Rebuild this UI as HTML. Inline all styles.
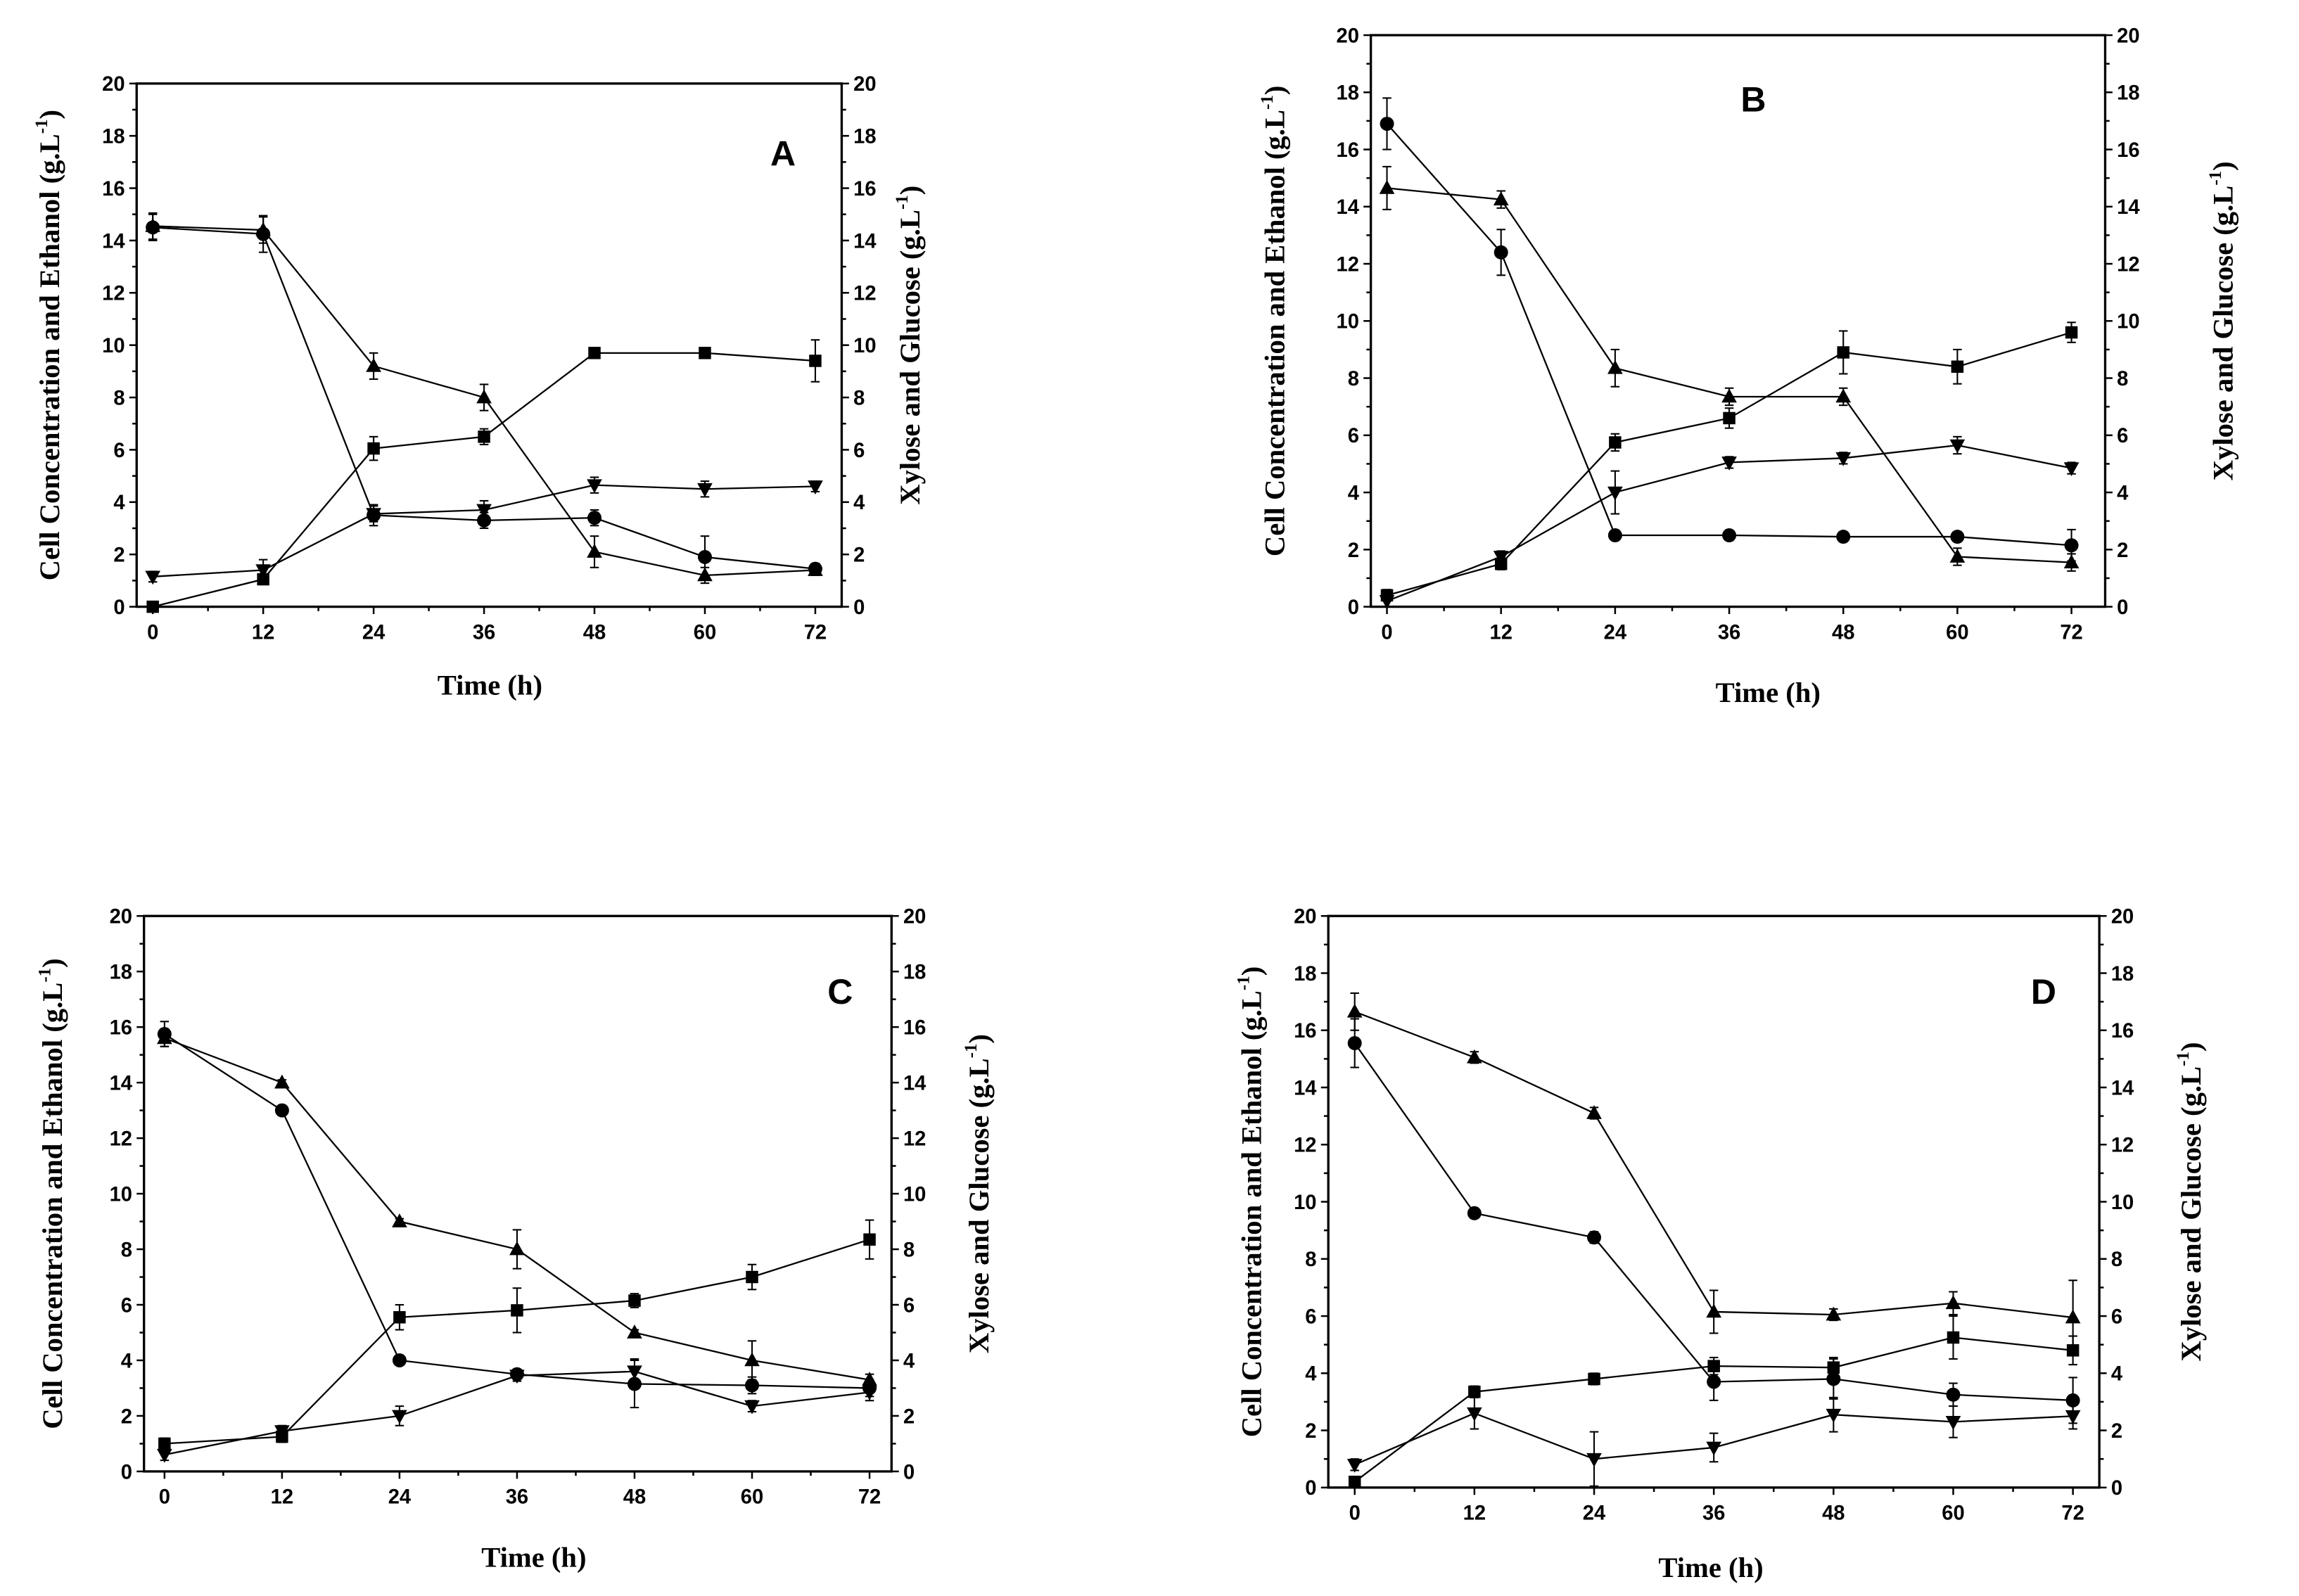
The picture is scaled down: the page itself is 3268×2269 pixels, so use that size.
<!DOCTYPE html>
<html><head><meta charset="utf-8"><style>
html,body{margin:0;padding:0;background:#fff;}
svg{display:block;}
text{fill:#000;}
.tk{font-family:"Liberation Sans Narrow","Liberation Sans",sans-serif;font-weight:bold;font-size:14px;}
.ttl{font-family:"Liberation Serif",serif;font-weight:bold;font-size:19.5px;}
.let{font-family:"Liberation Sans",sans-serif;font-weight:bold;font-size:24px;}
</style></head><body>
<svg id="chart" width="3268" height="2269" viewBox="0 0 1568 1089" xmlns="http://www.w3.org/2000/svg"></svg>
<script>
const hours = [0, 12, 24, 36, 48, 60, 72];
const yTicks = [0, 2, 4, 6, 8, 10, 12, 14, 16, 18, 20];
const xTicks = [0, 12, 24, 36, 48, 60, 72];
const panelLetters = ["A", "B", "C", "D"];
const squareA = [0, 1.05, 6.05, 6.5, 9.7, 9.7, 9.4];
const circleA = [14.5, 14.25, 3.5, 3.3, 3.4, 1.9, 1.45];
const upA = [14.55, 14.4, 9.2, 8.0, 2.1, 1.2, 1.4];
const downA = [1.15, 1.4, 3.55, 3.7, 4.65, 4.5, 4.6];
const squareB = [0.4, 1.5, 5.75, 6.6, 8.9, 8.4, 9.6];
const circleB = [16.9, 12.4, 2.5, 2.5, 2.45, 2.45, 2.15];
const upB = [14.65, 14.25, 8.35, 7.35, 7.35, 1.75, 1.55];
const downB = [0.2, 1.75, 4.0, 5.05, 5.2, 5.65, 4.85];
const squareC = [1.0, 1.25, 5.55, 5.8, 6.15, 7.0, 8.35];
const circleC = [15.75, 13.0, 4.0, 3.5, 3.15, 3.1, 3.0];
const upC = [15.6, 14.0, 9.0, 8.0, 5.0, 4.0, 3.3];
const downC = [0.6, 1.45, 2.0, 3.45, 3.6, 2.35, 2.85];
const squareD = [0.2, 3.35, 3.8, 4.25, 4.2, 5.25, 4.8];
const circleD = [15.55, 9.6, 8.75, 3.7, 3.8, 3.25, 3.05];
const upD = [16.65, 15.05, 13.1, 6.15, 6.05, 6.45, 5.95];
const downD = [0.8, 2.6, 1.0, 1.4, 2.55, 2.3, 2.5];
const errSquareA = [0, 0.2, 0.45, 0.3, 0.1, 0.15, 0.8];
const errCircleA = [0.5, 0.7, 0.4, 0.3, 0.3, 0.8, 0.2];
const errUpA = [0.5, 0.5, 0.5, 0.5, 0.6, 0.3, 0.2];
const errDownA = [0.2, 0.4, 0.3, 0.35, 0.3, 0.3, 0.2];
const errSquareB = [0.2, 0.2, 0.3, 0.35, 0.75, 0.6, 0.35];
const errCircleB = [0.9, 0.8, 0.1, 0.1, 0.1, 0.1, 0.55];
const errUpB = [0.75, 0.3, 0.65, 0.3, 0.3, 0.3, 0.3];
const errDownB = [0.2, 0.2, 0.75, 0.2, 0.2, 0.3, 0.2];
const errSquareC = [0.2, 0.2, 0.45, 0.8, 0.25, 0.45, 0.7];
const errCircleC = [0.45, 0.1, 0.1, 0.1, 0.85, 0.3, 0.3];
const errUpC = [0.3, 0.1, 0.1, 0.7, 0.1, 0.7, 0.2];
const errDownC = [0.2, 0.2, 0.35, 0.2, 0.45, 0.2, 0.3];
const errSquareD = [0.1, 0.2, 0.2, 0.3, 0.35, 0.75, 0.5];
const errCircleD = [0.85, 0.1, 0.2, 0.65, 0.7, 0.4, 0.8];
const errUpD = [0.65, 0.2, 0.2, 0.75, 0.2, 0.4, 1.3];
const errDownD = [0.2, 0.55, 0.95, 0.5, 0.6, 0.55, 0.45];

const panels = [
 {l:93,r:574,t:57,b:414,x0:104,x72:556,sq:squareA,ci:circleA,up:upA,dn:downA,eS:errSquareA,eC:errCircleA,eU:errUpA,eD:errDownA,lt:40,rt:627,tx:334,ty:474,lx:534,ly:113},
 {l:935,r:1436,t:24,b:414,x0:946,x72:1413,sq:squareB,ci:circleB,up:upB,dn:downB,eS:errSquareB,eC:errCircleB,eU:errUpB,eD:errDownB,lt:876,rt:1523,tx:1206,ty:479,lx:1196,ly:76},
 {l:98,r:608,t:625,b:1004,x0:112,x72:593,sq:squareC,ci:circleC,up:upC,dn:downC,eS:errSquareC,eC:errCircleC,eU:errUpC,eD:errDownC,lt:42,rt:674,tx:364,ty:1069,lx:573,ly:685},
 {l:906,r:1432,t:625,b:1015,x0:924,x72:1414,sq:squareD,ci:circleD,up:upD,dn:downD,eS:errSquareD,eC:errCircleD,eU:errUpD,eD:errDownD,lt:860,rt:1501,tx:1167,ty:1076,lx:1394,ly:685}
];
const NS = "http://www.w3.org/2000/svg";
const svg = document.getElementById("chart");
function mk(tag, attrs, parent, txt){
  const e = document.createElementNS(NS, tag);
  for (const k in attrs) e.setAttribute(k, attrs[k]);
  if (txt !== undefined) e.textContent = txt;
  parent.appendChild(e);
  return e;
}
panels.forEach((p, pi) => {
  const g = mk("g", {}, svg);
  
  
  const xs = h => p.x0 + (p.x72 - p.x0) * h / 72;
  const ys = v => p.b - (p.b - p.t) * v / 20;
  const fr = mk("rect", {x:p.l, y:p.t, width:p.r-p.l, height:p.b-p.t, fill:"none", stroke:"#000", "stroke-width":1.6}, g);
  
  
  for (let v = 0; v <= 20; v++) {
    const major = v % 2 === 0, len = major ? 5 : 3, y = ys(v);
    mk("line", {x1:p.l-len, x2:p.l, y1:y, y2:y, stroke:"#000", "stroke-width":1.2}, g);
    mk("line", {x1:p.r, x2:p.r+len, y1:y, y2:y, stroke:"#000", "stroke-width":1.2}, g);
  }
  yTicks.forEach(v => {
    const t1 = mk("text", {x:p.l-8, y:ys(v)+5, "text-anchor":"end", class:"tk"}, g, String(v));
    
    
    const t2 = mk("text", {x:p.r+8, y:ys(v)+5, "text-anchor":"start", class:"tk"}, g, String(v));
    
    
  });
  for (let h = 0; h <= 72; h += 6) {
    const major = h % 12 === 0, len = major ? 5 : 3, x = xs(h);
    mk("line", {x1:x, x2:x, y1:p.b, y2:p.b+len, stroke:"#000", "stroke-width":1.2}, g);
  }
  xTicks.forEach(h => {
    const t = mk("text", {x:xs(h), y:p.b+22, "text-anchor":"middle", class:"tk"}, g, String(h));
    
    
  });
  const xt = mk("text", {x:p.tx, y:p.ty, "text-anchor":"middle", class:"ttl"}, g, "Time (h)");
  
  
  const cy = (p.t + p.b) / 2;
  const lt = mk("text", {x:p.lt, y:cy, "text-anchor":"middle", class:"ttl", transform:`rotate(-90 ${p.lt} ${cy})`}, g);
  
  
  lt.appendChild(document.createTextNode("Cell Concentration and Ethanol (g.L"));
  mk("tspan", {dy:-8, "font-size":12}, lt, "-1");
  mk("tspan", {dy:8}, lt, ")");
  const rt = mk("text", {x:p.rt, y:cy, "text-anchor":"middle", class:"ttl", transform:`rotate(-90 ${p.rt} ${cy})`}, g);
  
  
  rt.appendChild(document.createTextNode("Xylose and Glucose (g.L"));
  mk("tspan", {dy:-8, "font-size":12}, rt, "-1");
  mk("tspan", {dy:8}, rt, ")");
  const pl = mk("text", {x:p.lx, y:p.ly, "text-anchor":"middle", class:"let"}, g, panelLetters[pi]);
  
  
  const series = [["square", p.sq, p.eS], ["circle", p.ci, p.eC], ["up", p.up, p.eU], ["down", p.dn, p.eD]];
  series.forEach(([kind, vals, errs]) => {
    const sg = mk("g", {}, g);
    
    
    mk("polyline", {points: vals.map((v,i)=>xs(hours[i])+","+ys(v)).join(" "), fill:"none", stroke:"#000", "stroke-width":1.1}, sg);
    vals.forEach((v, i) => {
      const x = xs(hours[i]), y = ys(v), e = errs[i];
      if (e > 0.05) {
        const y1 = ys(v+e), y2 = ys(v-e);
        mk("line", {x1:x, x2:x, y1:y1, y2:y2, stroke:"#000", "stroke-width":1}, sg);
        mk("line", {x1:x-3, x2:x+3, y1:y1, y2:y1, stroke:"#000", "stroke-width":1}, sg);
        mk("line", {x1:x-3, x2:x+3, y1:y2, y2:y2, stroke:"#000", "stroke-width":1}, sg);
      }
      let m;
      if (kind === "square") m = mk("rect", {x:x-4.2, y:y-4.2, width:8.4, height:8.4, fill:"#000"}, sg);
      else if (kind === "circle") m = mk("circle", {cx:x, cy:y, r:4.8, fill:"#000"}, sg);
      else if (kind === "up") m = mk("polygon", {points:`${x},${y-5.5} ${x-5.2},${y+4} ${x+5.2},${y+4}`, fill:"#000"}, sg);
      else m = mk("polygon", {points:`${x},${y+5.5} ${x-5.2},${y-4} ${x+5.2},${y-4}`, fill:"#000"}, sg);
      
      
    });
  });
});
</script>
</body></html>
